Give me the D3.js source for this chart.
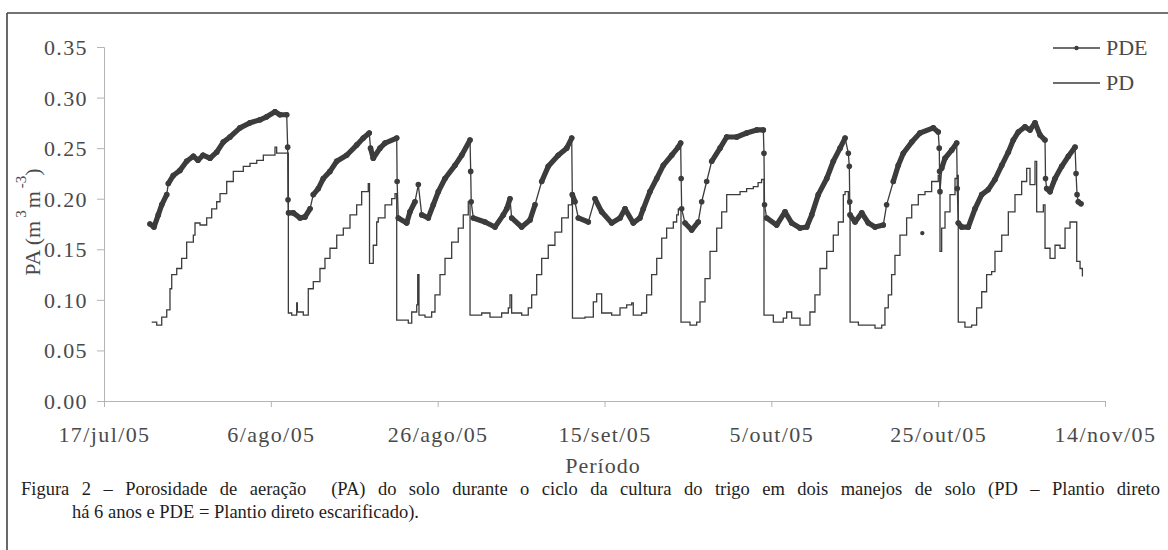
<!DOCTYPE html>
<html>
<head>
<meta charset="utf-8">
<script src="https://cdn.jsdelivr.net/npm/d3@7"></script>
<style>
  html, body { margin: 0; padding: 0; background: #fff; }
  svg { display: block; }
  text { font-family: "Liberation Serif", "Times New Roman", serif; }
</style>
</head>
<body>
<svg id="chart" width="1168" height="550"></svg>
<script>
// ---- data (days since 17/jul/2005, aeration porosity m3 m-3) ----
const startDate = "2005-07-17";
const endDate = "2005-11-14";
const tickDates = ["2005-07-17", "2005-08-06", "2005-08-26", "2005-09-15", "2005-10-05", "2005-10-25", "2005-11-14"];
const tickLabels = ["17/jul/05", "6/ago/05", "26/ago/05", "15/set/05", "5/out/05", "25/out/05", "14/nov/05"];
const yTicks = [0, 0.05, 0.10, 0.15, 0.20, 0.25, 0.30, 0.35];
const seriesNames = ["PDE", "PD"];

const pdeDay = [5.51, 5.99, 6.51, 6.92, 7.52, 7.71, 8.31, 9.11, 9.91, 10.71, 11.27, 11.87, 12.71, 13.51, 14.30, 15.10, 16.30, 17.50, 18.70, 19.50, 20.50, 21.10, 21.90,
  22.02, 22.06, 22.12, 22.69, 23.50, 24.10, 24.70, 25.09, 25.69, 26.29, 27.09, 27.90, 29.09, 30.29, 31.09, 31.80, 31.95, 32.28, 33.09, 33.69, 35.09,
  35.14, 35.28, 36.29, 36.68, 37.28, 37.68, 38.09, 38.88, 39.48, 40.08, 40.88, 42.08, 42.88, 43.88, 43.96, 44.02, 44.27, 45.67, 46.87, 47.87, 48.28, 48.67, 48.87,
  50.07, 51.07, 51.67, 52.47, 53.26, 54.46, 55.47, 56.07, 56.14, 56.46, 56.86, 58.06, 58.86, 59.66, 60.86, 61.86, 62.46, 63.45, 64.25, 64.65, 65.45, 66.26,
  67.05, 68.06, 68.85, 69.13, 69.19, 69.25, 69.65, 70.45, 71.24, 71.65, 72.25, 72.85, 73.85, 74.65, 75.85, 77.04, 78.24, 79.04, 79.12, 79.18, 79.44,
  80.64, 81.64, 82.44, 83.44, 84.24, 84.84, 85.63, 86.64, 87.43, 88.24, 88.84, 89.23, 89.35, 89.40, 89.44, 90.04, 90.84, 91.63, 92.43, 93.42, 93.82,
  94.62, 95.22, 95.82, 96.83, 97.82, 99.42, 100.01, 100.13, 100.17, 100.22, 100.42, 100.82, 101.62, 102.22, 102.29, 102.41, 102.82, 103.61, 104.41,
  105.22, 106.01, 106.81, 107.62, 108.41, 109.01, 109.61, 110.41, 111.01, 111.61, 112.21, 112.81, 112.87, 113.01, 113.41, 114.01, 114.81, 115.61,
  116.41, 116.53, 116.65, 116.80, 117.12];
const pdeVal = [0.175, 0.172, 0.184, 0.194, 0.204, 0.215, 0.223, 0.228, 0.237, 0.242, 0.238, 0.243, 0.240, 0.246, 0.256, 0.261, 0.270, 0.275, 0.278, 0.281, 0.286, 0.283, 0.283,
  0.251, 0.199, 0.186, 0.186, 0.181, 0.182, 0.190, 0.204, 0.210, 0.220, 0.227, 0.237, 0.243, 0.253, 0.260, 0.265, 0.250, 0.240, 0.250, 0.255, 0.260,
  0.217, 0.181, 0.176, 0.187, 0.197, 0.214, 0.184, 0.181, 0.194, 0.207, 0.220, 0.233, 0.243, 0.258, 0.227, 0.197, 0.181, 0.177, 0.172, 0.184, 0.190, 0.200, 0.181,
  0.172, 0.179, 0.194, 0.217, 0.232, 0.243, 0.250, 0.260, 0.204, 0.197, 0.181, 0.177, 0.200, 0.187, 0.176, 0.181, 0.190, 0.176, 0.181, 0.190, 0.207, 0.220,
  0.233, 0.243, 0.251, 0.255, 0.220, 0.190, 0.176, 0.169, 0.177, 0.197, 0.217, 0.237, 0.250, 0.261, 0.261, 0.265, 0.268, 0.268, 0.245, 0.194, 0.181,
  0.174, 0.187, 0.176, 0.171, 0.172, 0.184, 0.204, 0.220, 0.237, 0.250, 0.260, 0.245, 0.232, 0.197, 0.184, 0.177, 0.186, 0.176, 0.172, 0.174, 0.194,
  0.217, 0.233, 0.245, 0.256, 0.265, 0.270, 0.266, 0.250, 0.227, 0.207, 0.230, 0.240, 0.248, 0.255, 0.210, 0.176, 0.172, 0.172, 0.190,
  0.204, 0.209, 0.219, 0.233, 0.246, 0.258, 0.266, 0.271, 0.268, 0.275, 0.263, 0.258, 0.220, 0.210, 0.207, 0.220, 0.232, 0.242,
  0.251, 0.225, 0.204, 0.197, 0.195];
const pdeStrayDay = [98.1];
const pdeStrayVal = [0.166];

const pdDay = [5.72, 6.32, 6.92, 7.52, 7.91, 8.12, 8.72, 9.31, 9.91, 10.71, 10.91, 11.51, 12.31, 12.91, 13.51, 13.91, 14.71, 15.50, 16.70, 17.50, 18.31, 19.10, 19.90,
  20.50, 20.70, 21.90, 22.10, 22.50, 23.10, 23.18, 23.89, 24.49, 25.09, 25.89, 26.49, 27.09, 27.90, 28.69, 29.49, 30.29, 30.89, 31.68, 31.83, 32.28, 32.69,
  32.88, 33.69, 34.49, 34.89, 35.09, 36.48, 36.89, 37.49, 37.61, 37.76, 38.48, 39.28, 39.68, 40.28, 40.88, 41.68, 42.47, 43.07, 43.67, 43.88, 45.28, 46.27,
  47.67, 48.47, 48.67, 48.87, 50.07, 50.86, 51.27, 51.87, 52.47, 53.26, 54.06, 54.87, 55.66, 56.07, 56.16, 57.66, 58.66, 59.06, 59.66, 60.86, 61.86, 62.66,
  63.26, 63.45, 64.45, 65.05, 65.65, 66.26, 66.86, 67.45, 68.25, 68.65, 68.85, 69.17, 70.25, 71.05, 71.45, 72.05, 72.65, 73.45, 74.05, 74.65, 76.25, 77.04,
  77.84, 78.41, 78.83, 79.12, 80.24, 81.43, 81.84, 82.44, 83.44, 84.43, 84.63, 85.23, 85.83, 86.64, 87.43, 88.03, 88.63, 88.84, 89.23, 89.44, 90.44, 91.63,
  92.43, 93.23, 93.62, 94.02, 94.42, 94.82, 95.42, 96.22, 96.83, 97.62, 98.42, 99.22, 100.01, 100.22, 100.42, 100.82, 101.42, 102.02, 102.29, 102.41, 103.21,
  104.01, 104.61, 105.22, 105.81, 106.41, 106.81, 107.62, 108.41, 109.21, 110.01, 110.61, 111.01, 111.61, 111.81, 112.61, 112.81, 113.41, 114.01, 114.61,
  115.21, 115.81, 116.41, 116.61, 117.01, 117.29];
const pdVal = [0.078, 0.075, 0.083, 0.090, 0.111, 0.125, 0.131, 0.141, 0.157, 0.164, 0.176, 0.174, 0.181, 0.190, 0.197, 0.205, 0.217, 0.227, 0.232, 0.235, 0.238, 0.243, 0.243,
  0.251, 0.245, 0.245, 0.087, 0.085, 0.097, 0.088, 0.085, 0.111, 0.118, 0.131, 0.141, 0.151, 0.164, 0.171, 0.184, 0.194, 0.207, 0.215, 0.136, 0.154, 0.177,
  0.181, 0.194, 0.200, 0.205, 0.080, 0.077, 0.088, 0.095, 0.125, 0.085, 0.083, 0.088, 0.105, 0.125, 0.141, 0.157, 0.171, 0.184, 0.197, 0.085, 0.087, 0.083,
  0.087, 0.092, 0.105, 0.087, 0.085, 0.092, 0.105, 0.125, 0.141, 0.154, 0.167, 0.181, 0.194, 0.202, 0.082, 0.083, 0.098, 0.106, 0.087, 0.085, 0.092, 0.095,
  0.097, 0.085, 0.087, 0.105, 0.125, 0.141, 0.161, 0.171, 0.177, 0.184, 0.190, 0.078, 0.075, 0.078, 0.098, 0.121, 0.148, 0.171, 0.187, 0.204, 0.207, 0.210,
  0.212, 0.216, 0.219, 0.085, 0.078, 0.082, 0.088, 0.082, 0.075, 0.075, 0.088, 0.105, 0.131, 0.148, 0.164, 0.177, 0.204, 0.207, 0.195, 0.078, 0.075, 0.075,
  0.072, 0.075, 0.092, 0.105, 0.125, 0.144, 0.164, 0.181, 0.194, 0.204, 0.207, 0.217, 0.223, 0.148, 0.171, 0.187, 0.204, 0.220, 0.223, 0.078, 0.073,
  0.075, 0.092, 0.108, 0.125, 0.128, 0.148, 0.164, 0.187, 0.204, 0.217, 0.230, 0.214, 0.237, 0.187, 0.194, 0.151, 0.141, 0.154, 0.151,
  0.171, 0.177, 0.177, 0.138, 0.131, 0.123];

const captionLines = [
  "Figura 2 \u2013 Porosidade de aera\u00e7\u00e3o  (PA) do solo durante o ciclo da cultura do trigo em dois manejos de solo (PD \u2013 Plantio direto",
  "h\u00e1 6 anos e PDE = Plantio direto escarificado)."
];

// ---- drawing ----
const svg = d3.select("#chart");
const parse = d3.utcParse("%Y-%m-%d");
const t0 = parse(startDate);
const dayToDate = d => new Date(t0.getTime() + d * 864e5);

const x = d3.scaleUtc().domain([t0, parse(endDate)]).range([104, 1105]);
const y = d3.scaleLinear().domain([0, 0.35]).range([401, 47]);

const axisColor = "#b4b4b4";
const textColor = "#4a4a4a";
const lineColor = "#3c3c3c";

// frame
svg.append("line").attr("x1", 7).attr("x2", 1168).attr("y1", 13).attr("y2", 13)
  .attr("stroke", "#444").attr("stroke-width", 1.6);
svg.append("line").attr("x1", 7).attr("x2", 7).attr("y1", 13).attr("y2", 550)
  .attr("stroke", "#444").attr("stroke-width", 1.6);

// axes
const gx = svg.append("g").attr("transform", "translate(0,401)")
  .call(d3.axisBottom(x).tickValues(tickDates.map(parse)).tickFormat((d, i) => tickLabels[i]).tickSize(6).tickPadding(19));
const gy = svg.append("g").attr("transform", "translate(104,0)")
  .call(d3.axisLeft(y).tickValues(yTicks).tickFormat(d3.format(".2f")).tickSize(7).tickPadding(9));
[gx, gy].forEach(g => {
  g.select(".domain").attr("stroke", axisColor).attr("stroke-width", 1);
  g.selectAll(".tick line").attr("stroke", axisColor).attr("stroke-width", 1);
  g.selectAll(".tick text").attr("fill", textColor).style("font-size", "22px")
    .style("font-family", "'Liberation Serif', serif").style("letter-spacing", "1.4px");
});
gy.selectAll(".tick text").attr("dy", "0.34em");

// axis titles
svg.append("text").attr("x", 603).attr("y", 473).attr("text-anchor", "middle")
  .attr("fill", textColor).style("font-size", "22px").style("letter-spacing", "1px").text("Per\u00edodo");

const yt = svg.append("text").attr("transform", "translate(40,222) rotate(-90)")
  .attr("text-anchor", "middle").attr("fill", textColor).style("font-size", "22px");
yt.append("tspan").text("PA (m");
yt.append("tspan").attr("dy", -14).attr("dx", 3).style("font-size", "15px").text("3");
yt.append("tspan").attr("dy", 14).attr("dx", 2).text("m");
yt.append("tspan").attr("dy", -14).attr("dx", 3).style("font-size", "15px").text("-3");
yt.append("tspan").attr("dy", 14).text(")");

// series
const pde = pdeDay.map((d, i) => ({ date: dayToDate(d), v: pdeVal[i] }));
const pd = pdDay.map((d, i) => ({ date: dayToDate(d), v: pdVal[i] }));

const lineStep = d3.line().x(d => x(d.date)).y(d => y(d.v)).curve(d3.curveStepAfter);
const lineLin = d3.line().x(d => x(d.date)).y(d => y(d.v));

svg.append("path").datum(pd).attr("d", lineStep).attr("fill", "none")
  .attr("stroke", lineColor).attr("stroke-width", 1.3);

svg.append("path").datum(pde).attr("d", lineLin).attr("fill", "none")
  .attr("stroke", lineColor).attr("stroke-width", 1.3);

// thick band on gently sloping segments (dense markers in original)
const pairs = d3.pairs(pde).filter(([a, b]) => {
  const dx = Math.abs(x(b.date) - x(a.date)), dy = Math.abs(y(b.v) - y(a.v));
  return dy < 3 * dx + 2;
});
svg.append("g").selectAll("path").data(pairs).join("path")
  .attr("d", p => lineLin(p)).attr("fill", "none").attr("stroke", lineColor)
  .attr("stroke-width", 5.2).attr("stroke-linecap", "round");

svg.append("g").selectAll("circle").data(pde).join("circle")
  .attr("cx", d => x(d.date)).attr("cy", d => y(d.v)).attr("r", 2.8).attr("fill", lineColor);

svg.append("g").selectAll("circle").data(pdeStrayDay.map((d, i) => ({ date: dayToDate(d), v: pdeStrayVal[i] })))
  .join("circle").attr("cx", d => x(d.date)).attr("cy", d => y(d.v)).attr("r", 2.2).attr("fill", lineColor);

// legend
const lg = svg.append("g");
[48, 83].forEach((ly, i) => {
  lg.append("line").attr("x1", 1053).attr("x2", 1100).attr("y1", ly).attr("y2", ly)
    .attr("stroke", lineColor).attr("stroke-width", 1.3);
  if (i === 0) lg.append("circle").attr("cx", 1076.5).attr("cy", ly).attr("r", 2.2).attr("fill", lineColor);
  lg.append("text").attr("x", 1106).attr("y", ly).attr("dy", "0.34em").attr("fill", textColor)
    .style("font-size", "22px").text(seriesNames[i]);
});

// caption (first line justified by widening word gaps)
const cap1 = svg.append("text").attr("x", 21).attr("y", 495).attr("fill", "#1e1e1e")
  .style("font-size", "18.5px").style("white-space", "pre").text(captionLines[0]);
const natural = cap1.node().getComputedTextLength();
const gaps = captionLines[0].split(" ").length - 1;
cap1.style("word-spacing", Math.max(0, (1139 - natural) / gaps) + "px");
svg.append("text").attr("x", 72).attr("y", 518).attr("fill", "#1e1e1e")
  .style("font-size", "18.5px").text(captionLines[1]);
</script>
</body>
</html>
